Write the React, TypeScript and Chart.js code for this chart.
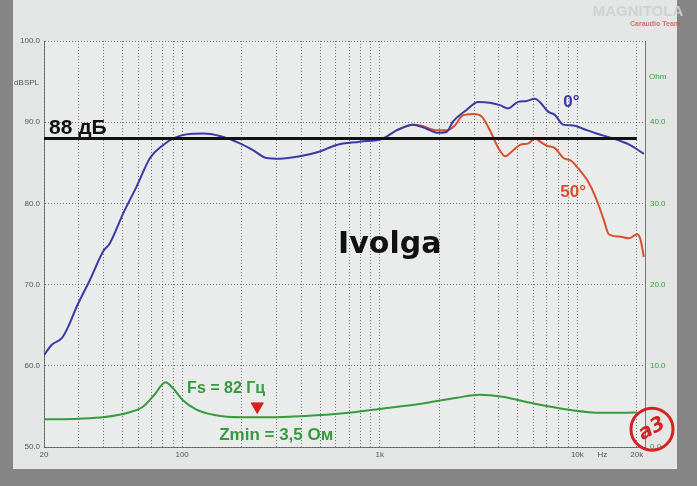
import React, { useEffect, useRef } from "react";
import { Chart, registerables } from "chart.js";

Chart.register(...registerables);

// ---------- data ----------
const blueFreq = [20, 21.9, 24.6, 26.5, 29.3, 34.2, 39.9, 43.1, 50.4, 58.9, 68.8, 80.3, 90.2, 105, 128, 155, 196, 227, 267, 312, 394, 498, 605, 793, 1040, 1216, 1476, 1726, 1940, 2179, 2351, 2748, 3147, 3605, 4053, 4466, 5017, 5532, 6094, 6457, 7116, 7693, 8475, 9523, 10690, 12500, 15180, 18420, 21700];
const blueDb = [61.3, 62.6, 63.4, 64.8, 67.3, 70.6, 74.1, 75.1, 78.8, 82.1, 85.6, 87.2, 88.0, 88.5, 88.6, 88.3, 87.4, 86.6, 85.6, 85.5, 85.8, 86.4, 87.2, 87.6, 88.0, 89.0, 89.7, 89.2, 88.7, 88.8, 90.1, 91.5, 92.5, 92.4, 92.1, 91.7, 92.5, 92.6, 92.9, 92.5, 91.3, 90.9, 89.7, 89.6, 89.2, 88.6, 88.0, 87.2, 86.1];

const redFreq = [1216, 1476, 1660, 1940, 2180, 2400, 2620, 2975, 3280, 3610, 3990, 4320, 4660, 5130, 5650, 6120, 6480, 7000, 7700, 8500, 9370, 10100, 11200, 12350, 13600, 14440, 16550, 18240, 20110, 20900, 21700];
const redDb = [89.0, 89.7, 89.5, 89.0, 89.0, 89.6, 90.8, 91.0, 90.7, 89.0, 86.8, 85.8, 86.4, 87.2, 87.4, 88.0, 87.6, 87.1, 86.8, 85.6, 85.2, 84.3, 82.9, 80.8, 78.0, 76.2, 75.9, 75.7, 76.2, 75.5, 73.4];

const zFreq = [20, 29.9, 40.6, 53.1, 63.3, 72.2, 82.4, 89.9, 100.6, 117.5, 146, 199, 272, 421, 656, 1019, 1585, 2460, 3209, 4180, 5950, 9250, 13160, 17900, 20000];
const zOhm = [3.41, 3.49, 3.69, 4.22, 4.96, 6.4, 7.97, 7.23, 5.79, 4.64, 3.94, 3.66, 3.66, 3.82, 4.15, 4.72, 5.3, 6.07, 6.44, 6.19, 5.38, 4.56, 4.22, 4.22, 4.25];

const refFreq = [20, 20000];
const refDb = [88, 88];

const zminFreq = [240];
const zminMarkOhm = [5.0];

const gridFreqs = [20, 30, 40, 50, 60, 70, 80, 90, 100, 200, 300, 400, 500, 600, 700, 800, 900, 1000, 2000, 3000, 4000, 5000, 6000, 7000, 8000, 9000, 10000, 20000];
const xLabels: Record<number, string> = { 20: "20", 100: "100", 1000: "1k", 10000: "10k", 20000: "20k" };
const dbTicks = [50, 60, 70, 80, 90, 100];
const ohmTicks = [0, 10, 20, 30, 40, 50];

const BLUE = "#3a3aa6";
const RED = "#d8502a";
const GREEN = "#369a3e";
const GRID = "rgba(80,80,80,0.75)";
const FONT = "'Liberation Sans', Arial, sans-serif";

const pts = (xs: number[], ys: number[]) => xs.map((x, i) => ({ x, y: ys[i] }));

const decorPlugin = {
  id: "decor",
  beforeDraw(chart: any) {
    const { ctx, chartArea: a, width, height } = chart;
    ctx.save();
    ctx.fillStyle = "#858585";
    ctx.fillRect(0, 0, width, height);
    ctx.fillStyle = "#e3e6e4";
    ctx.fillRect(13, 0, 664, 469);
    ctx.fillStyle = "#e9ecea";
    ctx.fillRect(a.left, a.top, a.right - a.left, a.bottom - a.top);
    ctx.restore();
  },
  afterDatasetsDraw(chart: any) {
    const { ctx, chartArea: a } = chart;
    const xs = chart.scales.x;
    const y = chart.scales.y;
    const y2 = chart.scales.y2;
    ctx.save();
    ctx.textBaseline = "alphabetic";
    ctx.textAlign = "left";

    ctx.fillStyle = "#111";
    ctx.font = `bold 21px ${FONT}`;
    ctx.fillText("88 дБ", xs.getPixelForValue(20) + 5, y.getPixelForValue(88) - 4);

    ctx.fillStyle = BLUE;
    ctx.font = `bold 17px ${FONT}`;
    ctx.fillText("0°", xs.getPixelForValue(8490), y.getPixelForValue(91.9));

    ctx.fillStyle = RED;
    ctx.fillText("50°", xs.getPixelForValue(8200), y.getPixelForValue(80.8));

    ctx.fillStyle = "#111";
    ctx.font = `bold 30px 'DejaVu Sans', ${FONT}`;
    ctx.textAlign = "center";
    ctx.fillText("Ivolga", xs.getPixelForValue(1124), y.getPixelForValue(73.9));

    ctx.textAlign = "left";
    ctx.fillStyle = GREEN;
    ctx.font = `bold 16px ${FONT}`;
    ctx.fillText("Fs = 82 Гц", xs.getPixelForValue(106), y2.getPixelForValue(6.65));
    ctx.font = `bold 17px ${FONT}`;
    ctx.fillText("Zmin = 3,5 Ом", xs.getPixelForValue(154), y2.getPixelForValue(0.86));

    // axis captions
    ctx.font = `8px ${FONT}`;
    ctx.textBaseline = "middle";
    ctx.fillStyle = "#555";
    ctx.textAlign = "right";
    ctx.fillText("dBSPL", a.left - 5, y.getPixelForValue(94.8));
    ctx.fillStyle = GREEN;
    ctx.textAlign = "left";
    ctx.fillText("Ohm", a.right + 4, y.getPixelForValue(95.6));
    ctx.fillStyle = "#555";
    ctx.textAlign = "center";
    ctx.fillText("Hz", xs.getPixelForValue(13400), a.bottom + 8);

    // stamp
    const cx = a.right + 7;
    const cy = y.getPixelForValue(52.2);
    ctx.strokeStyle = "#d42222";
    ctx.lineWidth = 3;
    ctx.beginPath();
    ctx.arc(cx, cy, 21, 0, Math.PI * 2);
    ctx.stroke();
    ctx.translate(cx, cy);
    ctx.rotate(-0.5);
    ctx.fillStyle = "#d42222";
    ctx.font = `italic bold 20px 'DejaVu Sans', ${FONT}`;
    ctx.textAlign = "center";
    ctx.textBaseline = "middle";
    ctx.fillText("a3", 0, 0);
    ctx.setTransform(1, 0, 0, 1, 0, 0);

    // watermark
    ctx.textAlign = "center";
    ctx.textBaseline = "middle";
    ctx.font = `bold 15px ${FONT}`;
    ctx.fillStyle = "rgba(205,208,206,0.9)";
    ctx.fillText("MAGNITOLA", a.right - 7, 12);
    ctx.font = `bold 7px ${FONT}`;
    ctx.fillStyle = "rgba(210,80,80,0.8)";
    ctx.fillText("Caraudio Team", a.right + 10, 24);
    ctx.restore();
  },
};

export default function App() {
  const ref = useRef<HTMLCanvasElement>(null);
  useEffect(() => {
    if (!ref.current) return;
    const chart = new Chart(ref.current, {
      type: "line",
      data: {
        datasets: [
          {
            label: "Zmin",
            data: pts(zminFreq, zminMarkOhm),
            yAxisID: "y2",
            showLine: false,
            pointStyle: "triangle",
            rotation: 180,
            pointRadius: 7,
            pointBackgroundColor: "#d82020",
            pointBorderColor: "#d82020",
            borderColor: "#d82020",
          },
          {
            label: "88 dB",
            data: pts(refFreq, refDb),
            yAxisID: "y",
            borderColor: "#111",
            borderWidth: 3,
            pointRadius: 0,
            tension: 0,
          },
          {
            label: "0°",
            data: pts(blueFreq, blueDb),
            yAxisID: "y",
            borderColor: BLUE,
            borderWidth: 2,
            pointRadius: 0,
            cubicInterpolationMode: "monotone",
          },
          {
            label: "50°",
            data: pts(redFreq, redDb),
            yAxisID: "y",
            borderColor: RED,
            borderWidth: 2,
            pointRadius: 0,
            cubicInterpolationMode: "monotone",
          },
          {
            label: "Z",
            data: pts(zFreq, zOhm),
            yAxisID: "y2",
            borderColor: GREEN,
            borderWidth: 2,
            pointRadius: 0,
            cubicInterpolationMode: "monotone",
          },
        ],
      },
      options: {
        responsive: false,
        animation: false,
        events: [],
        layout: { padding: { top: 41, left: 0, right: 0, bottom: 0 } },
        plugins: { legend: { display: false }, tooltip: { enabled: false } },
        scales: {
          x: {
            type: "logarithmic",
            min: 20,
            max: 22000,
            afterBuildTicks: (s: any) => {
              s.ticks = gridFreqs.map((v) => ({ value: v }));
            },
            afterFit: (s: any) => {
              s.height = 39;
            },
            ticks: {
              autoSkip: false,
              maxRotation: 0,
              padding: 3,
              color: "#555",
              font: { size: 8, family: FONT },
              callback: (v: any) => xLabels[Number(v)] ?? "",
            },
            grid: { color: GRID, lineWidth: 1, drawTicks: false },
            border: { display: true, color: GRID, dash: [1, 2] },
          },
          y: {
            position: "left",
            min: 50,
            max: 100,
            afterBuildTicks: (s: any) => {
              s.ticks = dbTicks.map((v) => ({ value: v }));
            },
            afterFit: (s: any) => {
              s.width = 44;
            },
            ticks: {
              padding: 4,
              color: "#555",
              font: { size: 8, family: FONT },
              callback: (v: any) => Number(v).toFixed(1),
            },
            grid: { color: GRID, lineWidth: 1, drawTicks: false },
            border: { display: true, color: GRID, dash: [1, 2] },
          },
          y2: {
            position: "right",
            min: 0,
            max: 50,
            afterBuildTicks: (s: any) => {
              s.ticks = ohmTicks.map((v) => ({ value: v }));
            },
            afterFit: (s: any) => {
              s.width = 52;
            },
            ticks: {
              padding: 5,
              color: GREEN,
              font: { size: 8, family: FONT },
              callback: (v: any) => (Number(v) === 50 ? "" : Number(v).toFixed(1)),
            },
            grid: { display: false, drawTicks: false },
            border: { display: true, color: GRID, dash: [1, 2] },
          },
        },
      } as any,
      plugins: [decorPlugin],
    });
    return () => chart.destroy();
  }, []);

  return (
    <div style={{ position: "fixed", left: 0, top: 0, width: 697, height: 486 }}>
      <canvas ref={ref} width={697} height={486} style={{ display: "block" }} />
    </div>
  );
}
